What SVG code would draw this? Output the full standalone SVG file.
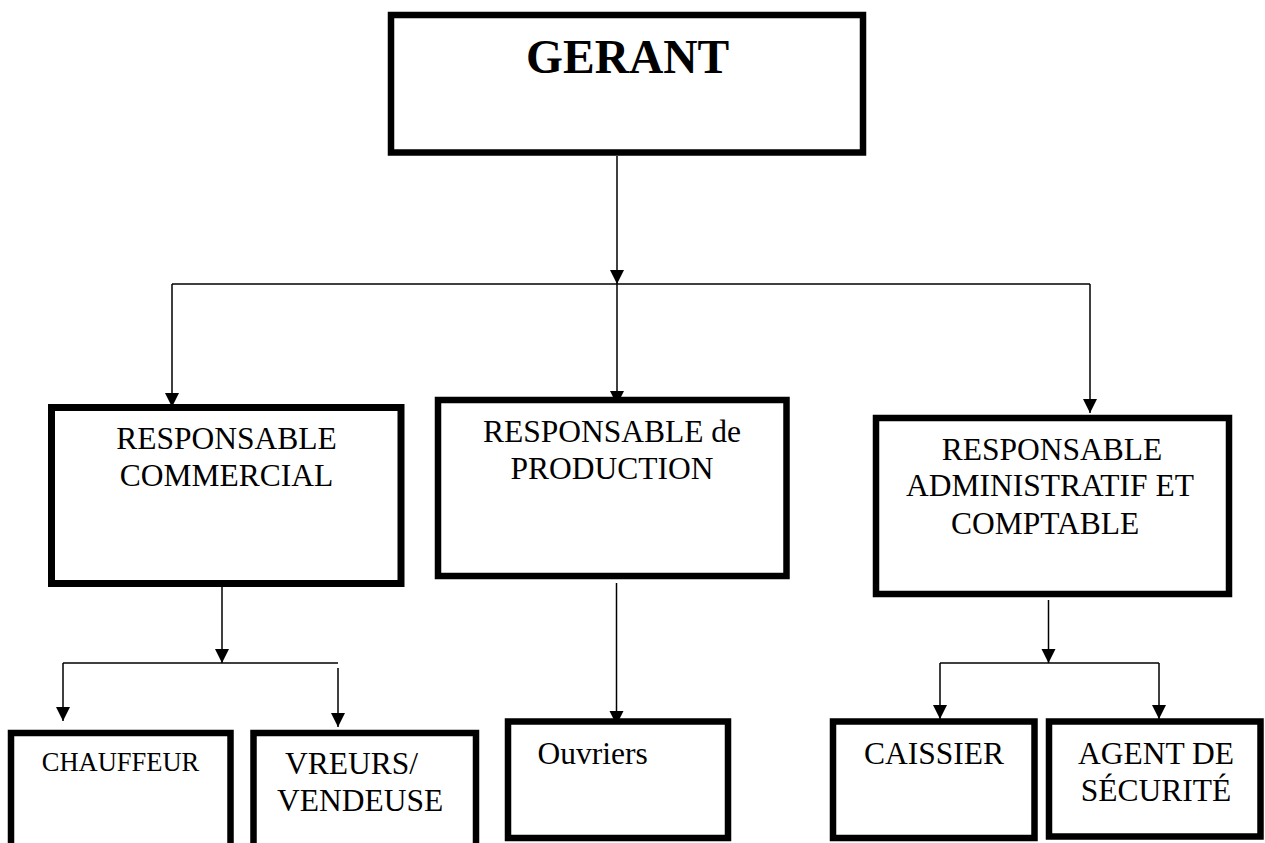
<svg xmlns="http://www.w3.org/2000/svg" width="1265" height="843" viewBox="0 0 1265 843">
  <style>
    .box { fill: #ffffff; stroke: #000000; stroke-width: 6.5; }
    text { font-family: 'Liberation Serif', 'Times New Roman', serif; fill: #000000; }
    .lbl { font-size: 31.5px; }
    .mid { text-anchor: middle; }
    .title { font-size: 47.5px; font-weight: bold; }
    .conn { fill: none; stroke: #000000; stroke-width: 1.5; }
  </style>
  <defs>
    <marker id="arrow" viewBox="0 0 10 10" refX="10" refY="5" markerWidth="14" markerHeight="16" markerUnits="userSpaceOnUse" orient="auto">
      <path d="M0,0 L10,5 L0,10 z" fill="#000000"/>
    </marker>
  </defs>
  <rect width="1265" height="843" fill="#ffffff"/>

  <g id="connectors">
    <line class="conn" x1="617" y1="156" x2="617" y2="284" marker-end="url(#arrow)"/>
    <line class="conn" x1="172" y1="284" x2="1090" y2="284"/>
    <line class="conn" x1="172" y1="284" x2="172" y2="407" marker-end="url(#arrow)"/>
    <line class="conn" x1="617" y1="284" x2="617" y2="405" marker-end="url(#arrow)"/>
    <line class="conn" x1="1090" y1="284" x2="1090" y2="413" marker-end="url(#arrow)"/>
    <line class="conn" x1="222" y1="580" x2="222" y2="663" marker-end="url(#arrow)"/>
    <line class="conn" x1="63" y1="663" x2="338" y2="663"/>
    <line class="conn" x1="63" y1="663" x2="63" y2="721" marker-end="url(#arrow)"/>
    <line class="conn" x1="338" y1="668" x2="338" y2="727" marker-end="url(#arrow)"/>
    <line class="conn" x1="616.5" y1="583" x2="616.5" y2="725" marker-end="url(#arrow)"/>
    <line class="conn" x1="1048.5" y1="600" x2="1048.5" y2="663" marker-end="url(#arrow)"/>
    <line class="conn" x1="940" y1="663" x2="1159" y2="663"/>
    <line class="conn" x1="940" y1="663" x2="940" y2="719" marker-end="url(#arrow)"/>
    <line class="conn" x1="1159" y1="663" x2="1159" y2="719" marker-end="url(#arrow)"/>
  </g>

  <g id="gerant">
    <rect class="box" x="391" y="15" width="472" height="137.5"/>
    <text class="title" x="526" y="73" font-family="Liberation Serif, serif">GERANT</text>
  </g>

  <g id="resp-commercial">
    <rect class="box" x="51.5" y="407.5" width="349.5" height="176" style="stroke-width:7"/>
    <text class="lbl mid" x="226.5" y="449" font-family="Liberation Serif, serif">RESPONSABLE</text>
    <text class="lbl mid" x="226.5" y="486" font-family="Liberation Serif, serif">COMMERCIAL</text>
  </g>

  <g id="resp-production">
    <rect class="box" x="438" y="400" width="348.5" height="176"/>
    <text class="lbl mid" x="612" y="442" font-family="Liberation Serif, serif">RESPONSABLE de</text>
    <text class="lbl mid" x="612" y="479" font-family="Liberation Serif, serif">PRODUCTION</text>
  </g>

  <g id="resp-administratif">
    <rect class="box" x="876" y="418" width="353" height="176"/>
    <text class="lbl mid" x="1052" y="460" font-family="Liberation Serif, serif">RESPONSABLE</text>
    <text class="lbl mid" x="1050" y="496" font-family="Liberation Serif, serif">ADMINISTRATIF ET</text>
    <text class="lbl mid" x="1045" y="534" font-family="Liberation Serif, serif">COMPTABLE</text>
  </g>

  <g id="chauffeur">
    <rect class="box" x="11" y="733" width="219.5" height="140"/>
    <text class="lbl mid" x="120.5" y="771" style="font-size:26.5px" font-family="Liberation Serif, serif">CHAUFFEUR</text>
  </g>

  <g id="vreurs-vendeuse">
    <rect class="box" x="253.5" y="733" width="222.5" height="140"/>
    <text class="lbl" x="285" y="774" font-family="Liberation Serif, serif">VREURS/</text>
    <text class="lbl" x="277" y="811" font-family="Liberation Serif, serif">VENDEUSE</text>
  </g>

  <g id="ouvriers">
    <rect class="box" x="508" y="721.5" width="220" height="116.5"/>
    <text class="lbl" x="537.5" y="764" font-family="Liberation Serif, serif">Ouvriers</text>
  </g>

  <g id="caissier">
    <rect class="box" x="833" y="721.5" width="201.5" height="116.5"/>
    <text class="lbl mid" x="934" y="764" font-family="Liberation Serif, serif">CAISSIER</text>
  </g>

  <g id="agent-securite">
    <rect class="box" x="1049" y="721.5" width="211.5" height="115"/>
    <text class="lbl mid" x="1156" y="764" font-family="Liberation Serif, serif">AGENT DE</text>
    <text class="lbl mid" x="1156" y="801" font-family="Liberation Serif, serif">SÉCURITÉ</text>
  </g>
</svg>
